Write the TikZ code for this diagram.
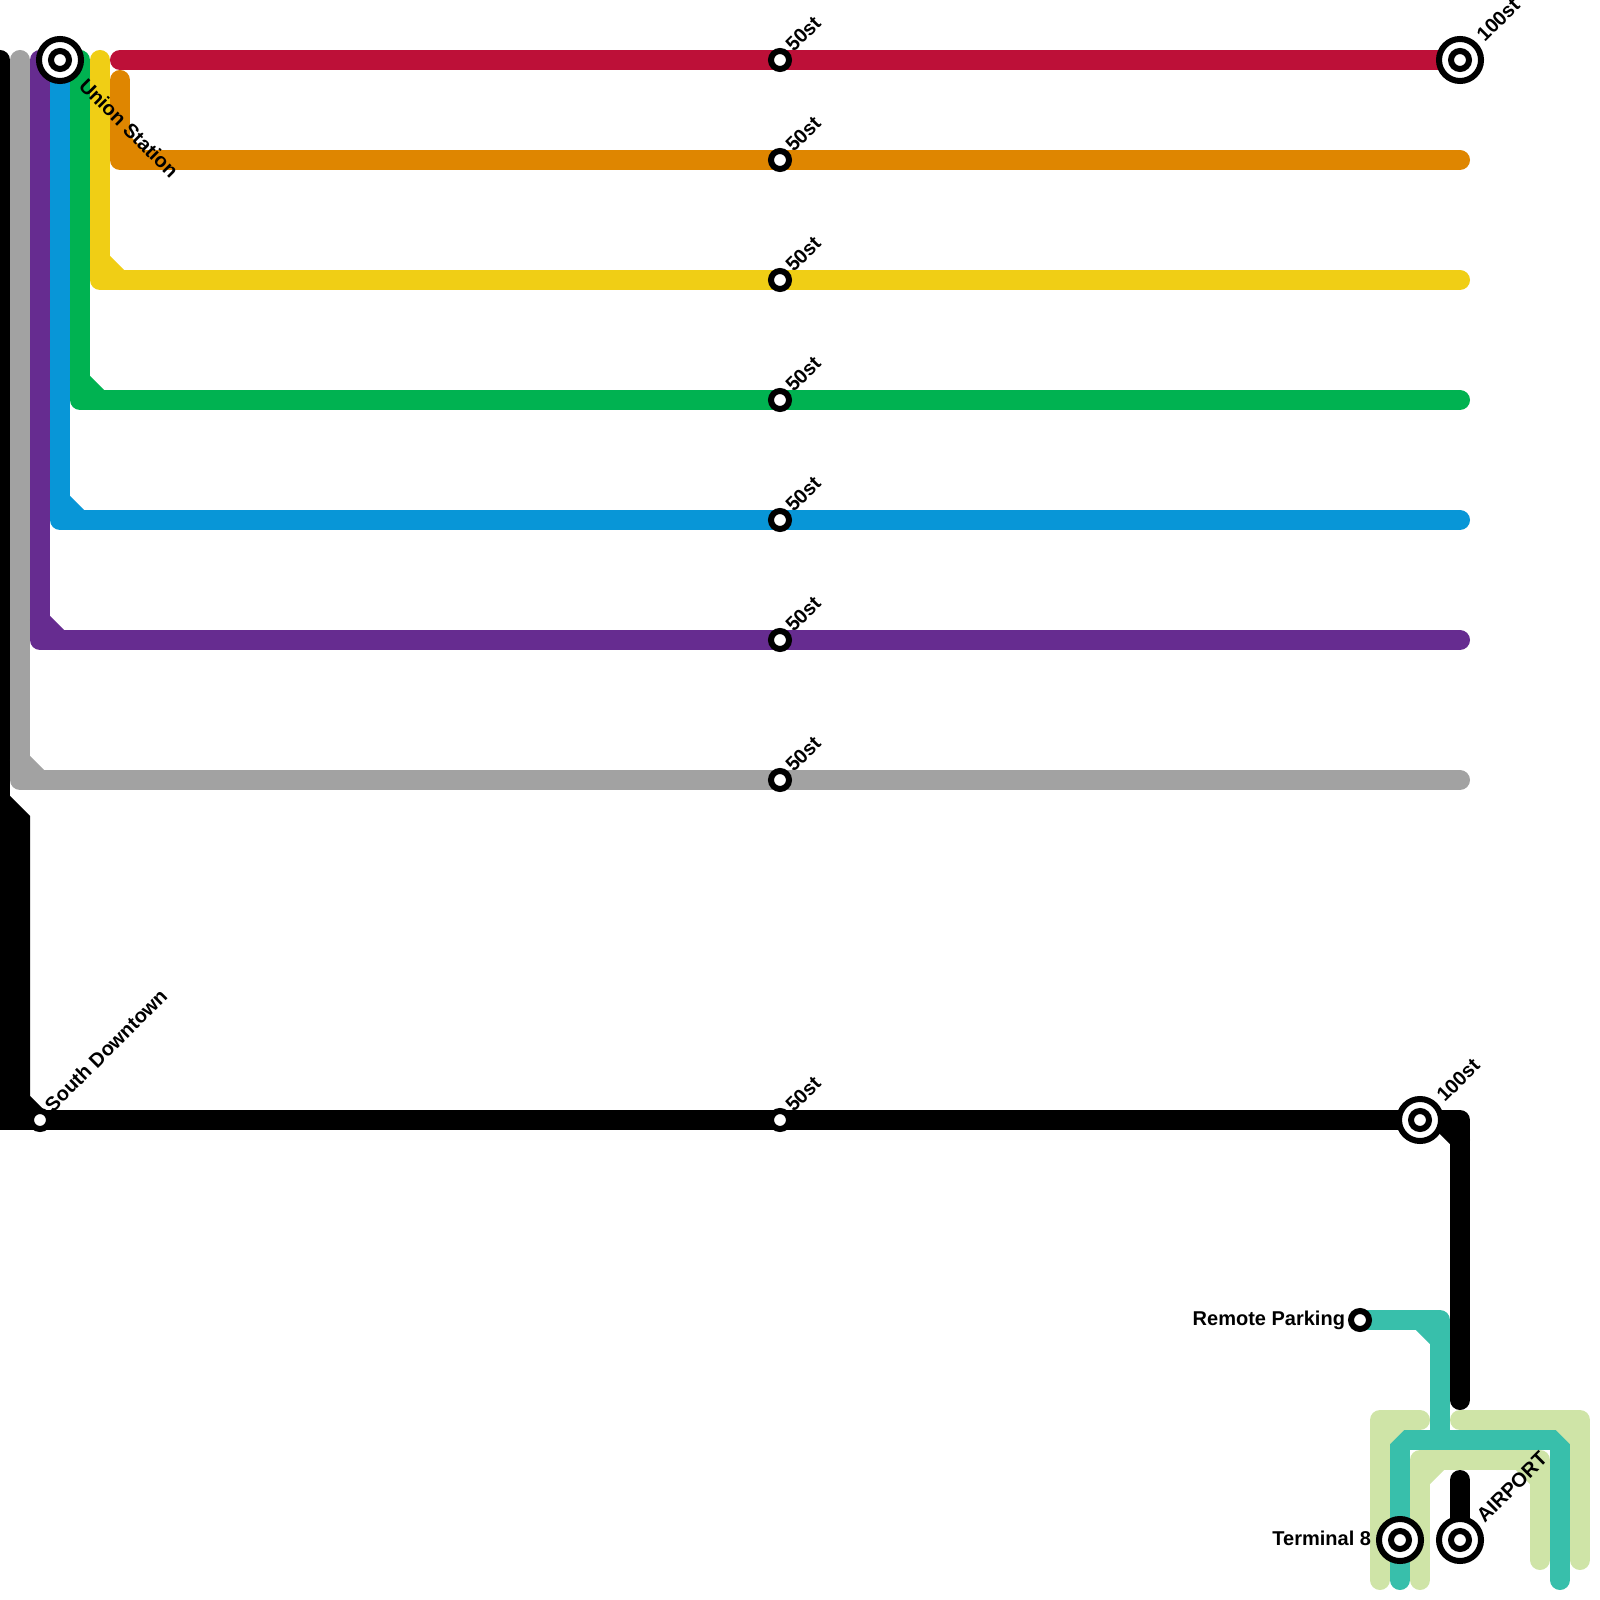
\documentclass[tikz,border=0pt]{standalone}
\usepackage{fontspec}
\setmainfont{Liberation Sans}
\usepackage{xcolor}
\definecolor{ruby}{HTML}{BD1038}
\definecolor{amber}{HTML}{DF8600}
\definecolor{sun}{HTML}{F0CE15}
\definecolor{leaf}{HTML}{00B251}
\definecolor{sky}{HTML}{0896D7}
\definecolor{plum}{HTML}{662C90}
\definecolor{ash}{HTML}{A2A2A2}
\definecolor{seafoam}{HTML}{38BFAB}
\definecolor{pale}{HTML}{CFE4A7}
\tikzset{
  route/.style={line width=2mm, line cap=round, line join=round},
  stop/.style={circle, draw=black, fill=white, line width=.6mm, minimum size=1.8mm, inner sep=0pt, outer sep=0pt},
  hub/.style={circle, draw=black, fill=white, line width=.6mm, minimum size=4.2mm, inner sep=0pt, outer sep=0pt},
  stoptext/.style={font=\fontsize{5.69pt}{7pt}\selectfont\bfseries, inner sep=0pt, outer sep=0pt},
  rising/.style={stoptext, rotate=45, anchor=west},
  falling/.style={stoptext, rotate=-45, anchor=west},
  leftward/.style={stoptext, anchor=east},
}
\begin{document}
\begin{tikzpicture}[x=0.01cm, y=-0.01cm]
  \def\Xend{1460}
  \def\Xmid{780}
  \def\Yruby{60}   \def\Yamber{160}
  \def\Ysun{280}   \def\Yleaf{400}
  \def\Ysky{520}   \def\Yplum{640}
  \def\Yash{780}   \def\Yblack{1120}

  \useasboundingbox (0,0) rectangle (1600,1600);

  \coordinate (union) at (60,\Yruby);
  \coordinate (downtown) at (40,\Yblack);
  \coordinate (east) at (1420,\Yblack);
  \coordinate (remote) at (1360,1320);
  \coordinate (terminal) at (1400,1540);
  \coordinate (airport) at (1460,1540);

  % black line, two pieces
  \draw[route, black] (0,60) -- (0,\Yblack) -- (\Xend,\Yblack) -- (\Xend,1400);
  \draw[route, black, line join=miter] (0,800) -- (20,820) -- (20,1100) -- (downtown);
  \draw[route, black] (10,830) -- (10,\Yblack) -- (downtown);
  \draw[route, black] (1440,\Yblack) -- (\Xend,1140);
  \draw[route, black] (\Xend,1480) -- (airport);

  \draw[route, ash] (20,60) -- (20,\Yash) -- (\Xend,\Yash);
  \draw[route, ash] (20,760) -- (40,\Yash);
  \draw[route, plum] (40,60) -- (40,\Yplum) -- (\Xend,\Yplum);
  \draw[route, plum] (40,620) -- (60,\Yplum);
  \draw[route, sky] (union) -- (60,\Ysky) -- (\Xend,\Ysky);
  \draw[route, sky] (60,500) -- (80,\Ysky);
  \draw[route, leaf] (80,60) -- (80,\Yleaf) -- (\Xend,\Yleaf);
  \draw[route, leaf] (80,380) -- (100,\Yleaf);
  \draw[route, sun] (100,60) -- (100,\Ysun) -- (\Xend,\Ysun);
  \draw[route, sun] (100,260) -- (120,\Ysun);
  \draw[route, amber] (120,80) -- (120,\Yamber) -- (\Xend,\Yamber);
  \draw[route, amber] (120,140) -- (140,\Yamber);
  \draw[route, ruby] (120,\Yruby) -- (\Xend,\Yruby);

  % airport loop
  \draw[route, seafoam] (remote) -- (1440,1320) -- (1440,1440);
  \draw[route, seafoam] (1420,1320) -- (1440,1340);
  \draw[route, seafoam] (1400,1580) -- (1400,1440) -- (1560,1440) -- (1560,1580);
  \draw[route, pale] (1380,1580) -- (1380,1420) -- (1420,1420);
  \draw[route, pale] (1380,1440) -- (1400,1420);
  \draw[route, pale] (1460,1420) -- (1580,1420) -- (1580,1560);
  \draw[route, pale] (1560,1420) -- (1580,1440);
  \draw[route, pale] (1420,1580) -- (1420,1460) -- (1540,1460) -- (1540,1560);
  \draw[route, pale] (1420,1480) -- (1440,1460);
  \draw[route, pale] (1520,1460) -- (1540,1480);

  \node[stop] (midruby) at (\Xmid,\Yruby) {};
  \node[stop] (midamber) at (\Xmid,\Yamber) {};
  \node[stop] (midsun) at (\Xmid,\Ysun) {};
  \node[stop] (midleaf) at (\Xmid,\Yleaf) {};
  \node[stop] (midsky) at (\Xmid,\Ysky) {};
  \node[stop] (midplum) at (\Xmid,\Yplum) {};
  \node[stop] (midash) at (\Xmid,\Yash) {};
  \node[stop] (midblack) at (\Xmid,\Yblack) {};
  \node[stop] (downtownstop) at (downtown) {};
  \node[stop] (remotestop) at (remote) {};

  \node[hub] (unionhub) at (union) {};
  \node[stop] (unionstop) at (union) {};
  \node[hub] (farhub) at (\Xend,\Yruby) {};
  \node[stop] (farstop) at (\Xend,\Yruby) {};
  \node[hub] (easthub) at (east) {};
  \node[stop] (eaststop) at (east) {};
  \node[hub] (terminalhub) at (terminal) {};
  \node[stop] (terminalstop) at (terminal) {};
  \node[hub] (airporthub) at (airport) {};
  \node[stop] (airportstop) at (airport) {};

  \node[rising] (lblruby) at (789,48) {50st};
  \node[rising] (lblamber) at (789,148) {50st};
  \node[rising] (lblsun) at (789,268) {50st};
  \node[rising] (lblleaf) at (789,388) {50st};
  \node[rising] (lblsky) at (789,508) {50st};
  \node[rising] (lblplum) at (789,628) {50st};
  \node[rising] (lblash) at (789,768) {50st};
  \node[rising] (lblblack) at (789,1108) {50st};
  \node[rising] (lblfar) at (1480,38) {100st};
  \node[rising] (lbleast) at (1440,1098) {100st};
  \node[rising] (lbldowntown) at (48,1108) {South Downtown};
  \node[rising] (lblairport) at (1480,1519) {AIRPORT};
  \node[falling] (lblunion) at (83,82) {Union Station};
  \node[leftward] (lblremote) at (1345,1320) {Remote Parking};
  \node[leftward] (lblterminal) at (1371,1538) {Terminal 8};
\end{tikzpicture}
\end{document}
